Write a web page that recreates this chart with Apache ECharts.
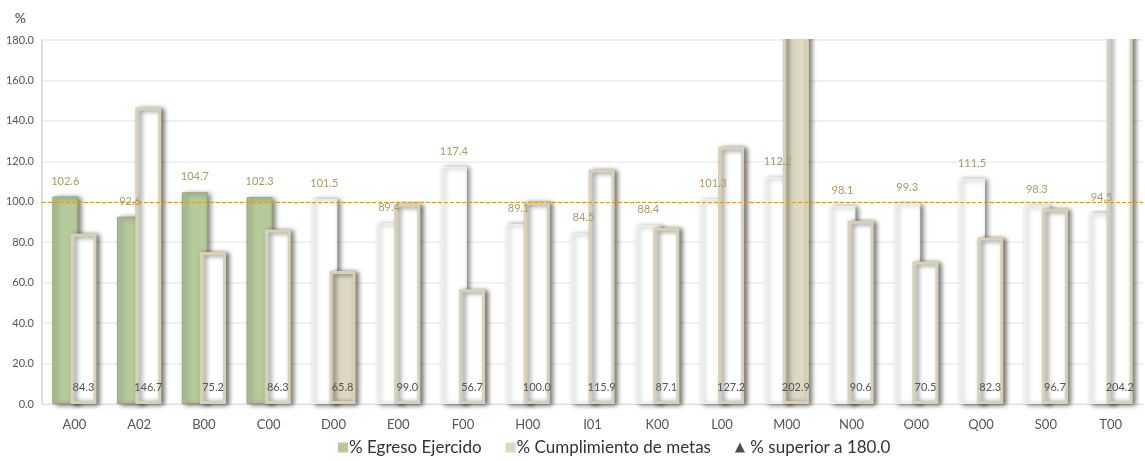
<!DOCTYPE html>
<html>
<head>
<meta charset="utf-8">
<script src="https://cdn.jsdelivr.net/npm/echarts@6/dist/echarts.min.js"></script>
<style>
  html, body { margin: 0; padding: 0; background: #fff; }
  #chart { width: 1145px; height: 461px; }
</style>
</head>
<body>
<div id="chart"></div>
<script>
// categorías y valores
const categorias = ['A00', 'A02', 'B00', 'C00', 'D00', 'E00', 'F00', 'H00', 'I01', 'K00', 'L00', 'M00', 'N00', 'O00', 'Q00', 'S00', 'T00']
const egreso = [102.6, 92.6, 104.7, 102.3, 101.5, 89.4, 117.4, 89.1, 84.5, 88.4, 101.3, 112.2, 98.1, 99.3, 111.5, 98.3, 94.5]
const metas = [84.3, 146.7, 75.2, 86.3, 65.8, 99.0, 56.7, 100.0, 115.9, 87.1, 127.2, 202.9, 90.6, 70.5, 82.3, 96.7, 204.2]
// qué barras van rellenas
const egresoVerde = ['A00', 'A02', 'B00', 'C00']
const metasRelleno = ['D00', 'M00']
const limite = 180
const referencia = 100

const verde = '#b6c99b'
const beige = '#ddd8c2'
const sombra = {
    shadowColor: 'rgba(0,0,0,0.55)',
    shadowBlur: 5,
    shadowOffsetX: 3,
    shadowOffsetY: 1
}
const gridLeft = 42
const gridTop = 40

const cs = echarts.init(document.getElementById('chart'))

const option = {
    animation: false,
    textStyle: { fontFamily: 'Lato' },
    grid: { left: gridLeft, right: 2, top: gridTop, bottom: 57 },
    // tapa lo que sobresale de 180 (las barras pasan del tope sin borde superior)
    graphic: [{
        type: 'rect',
        left: gridLeft + 1,
        top: 0,
        z: 50,
        shape: { width: 1145 - gridLeft, height: gridTop - 1 },
        style: { fill: '#fff' }
    }],
    legend: {
        bottom: 0,
        left: 333,
        itemWidth: 10,
        itemHeight: 10,
        itemGap: 24,
        textStyle: { fontSize: 17, color: '#333', padding: [0, 0, 0, -4] },
        data: [
            { name: '% Egreso Ejercido', icon: 'rect', itemStyle: { color: verde, shadowBlur: 0, shadowOffsetX: 0, shadowOffsetY: 0, borderWidth: 0 } },
            { name: '% Cumplimiento de metas', icon: 'rect', itemStyle: { color: beige, shadowBlur: 0, shadowOffsetX: 0, shadowOffsetY: 0, borderWidth: 0 } },
            { name: ' % superior a 180.0', icon: 'triangle', itemStyle: { color: '#222' } }
        ]
    },
    xAxis: {
        type: 'category',
        data: categorias,
        axisLine: { lineStyle: { color: '#ddd' } },
        axisTick: { show: false },
        axisLabel: { color: '#555', fontSize: 13, margin: 14 }
    },
    yAxis: {
        type: 'value',
        name: '%',
        nameTextStyle: { color: '#444', fontSize: 14, align: 'right', padding: [0, 16, 0, 0] },
        min: 0,
        max: limite,
        interval: 20,
        axisLine: { show: true, lineStyle: { color: '#ddd', width: 2 } },
        axisTick: { show: false },
        axisLabel: {
            color: '#555',
            fontSize: 11,
            margin: 8,
            formatter: v => v.toFixed(1)
        },
        splitLine: { lineStyle: { color: '#eee', width: 1.5 } }
    },
    series: [
        {
            type: 'bar',
            name: '% Egreso Ejercido',
            barWidth: 26,
            barGap: '-30%',
            data: egreso.map((v, i) => ({
                value: v,
                itemStyle: egresoVerde.includes(categorias[i])
                    ? Object.assign({ color: verde, borderColor: '#94a675', borderWidth: 1 }, sombra)
                    : Object.assign({ color: '#fff', borderColor: '#f2f2f2', borderWidth: 1 }, sombra)
            })),
            label: {
                show: true,
                position: 'top',
                distance: 10,
                color: '#a89a66',
                fontSize: 11,
                formatter: p => p.value.toFixed(1)
            },
            markLine: {
                silent: true,
                symbol: 'none',
                label: { show: false },
                lineStyle: { color: '#d6a20c', type: 'dashed', width: 1 },
                data: [{ yAxis: referencia }]
            }
        },
        {
            type: 'bar',
            name: '% Cumplimiento de metas',
            barWidth: 26,
            clip: false,
            data: metas.map((v, i) => ({
                value: v,
                itemStyle: Object.assign({
                    color: metasRelleno.includes(categorias[i]) ? beige : '#fff',
                    borderColor: '#d8d1b6',
                    borderWidth: 3
                }, sombra)
            })),
            label: {
                show: true,
                position: 'insideBottom',
                distance: 11,
                color: '#555',
                fontSize: 11,
                formatter: p => p.value.toFixed(1)
            }
        },
        {
            type: 'scatter',
            name: ' % superior a 180.0',
            data: []
        }
    ]
}

cs.setOption(option)
</script>
</body>
</html>
